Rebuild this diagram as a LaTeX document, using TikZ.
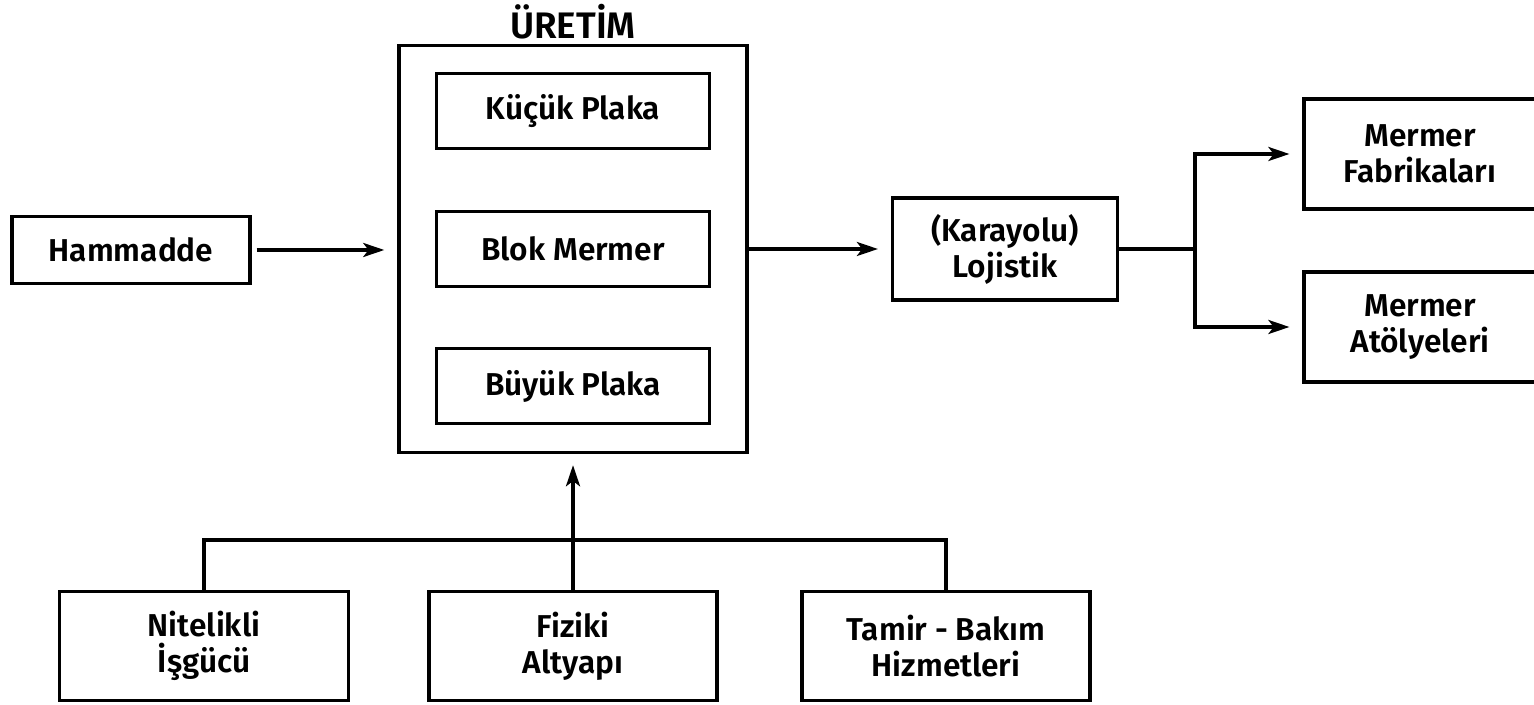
\documentclass[tikz,border=0pt]{standalone}
\usepackage{fontspec}
\setmainfont{Fira Sans}[BoldFont={Fira Sans SemiBold}]
\usepackage{tikz}
\usetikzlibrary{arrows.meta}

\begin{document}
\begin{tikzpicture}[>={Stealth[length=12pt,width=8pt,inset=3pt]},x=0.02cm,y=-0.02cm,line width=1.8pt,
		font=\bfseries\fontsize{18}{20.5}\selectfont,
		kutu/.style={draw,line width=1.8pt,align=center,inner sep=0pt},
		ok/.style={->,line width=1.8pt,shorten >=0.26cm}]
	\useasboundingbox (0,0) rectangle (1534,705);
	\clip (0,0) rectangle (1534,705);
	% uretim blogu
	\node[kutu,minimum width=6.96cm,minimum height=8.14cm,line width=2pt] (uretim) at (573,249) {};
	\node[font=\bfseries\fontsize{21}{24}\selectfont] (baslik) at (573,22) {ÜRETİM};
	\node[kutu,minimum width=5.46cm,minimum height=1.5cm] (kucuk) at (573,111) {Küçük Plaka};
	\node[kutu,minimum width=5.46cm,minimum height=1.5cm] (blok) at (573,249) {Blok Mermer};
	\node[kutu,minimum width=5.46cm,minimum height=1.5cm] (buyuk) at (573,386) {Büyük Plaka};
	% girdi ve cikti
	\node[kutu,minimum width=4.76cm,minimum height=1.34cm] (hammadde) at (131,250) {Hammadde};
	\node[kutu,minimum width=4.5cm,minimum height=2.04cm] (lojistik) at (1005,249) {(Karayolu)\\Lojistik};
	\node[kutu,minimum width=4.64cm,minimum height=2.2cm] (fabrika) at (1420,154) {Mermer\\Fabrikaları};
	\node[kutu,minimum width=4.64cm,minimum height=2.2cm] (atolye) at (1420,327) {Mermer\\Atölyeleri};
	% destekler
	\node[kutu,minimum width=5.78cm,minimum height=2.18cm] (nitelikli) at (204,646) {Nitelikli\\İşgücü};
	\node[kutu,minimum width=5.76cm,minimum height=2.18cm] (fiziki) at (573,646) {Fiziki\\Altyapı};
	\node[kutu,minimum width=5.76cm,minimum height=2.18cm] (tamir) at (946,646) {Tamir - Bakım\\Hizmetleri};
	\coordinate (dal) at (1195,249);
	\coordinate (bar) at (573,540);
	\draw[ok,shorten <=0.1cm] (hammadde.east) -- (hammadde.east -| uretim.west);
	\draw[ok] (uretim.east |- lojistik) -- (lojistik.west);
	\draw (lojistik.east) -- (dal);
	\draw[ok] (dal) |- (fabrika.west);
	\draw[ok] (dal) |- (atolye.west);
	\draw (nitelikli.north) |- (bar) -| (tamir.north);
	\draw[ok,shorten >=0.22cm] (fiziki.north) -- (uretim.south);
\end{tikzpicture}
\end{document}
